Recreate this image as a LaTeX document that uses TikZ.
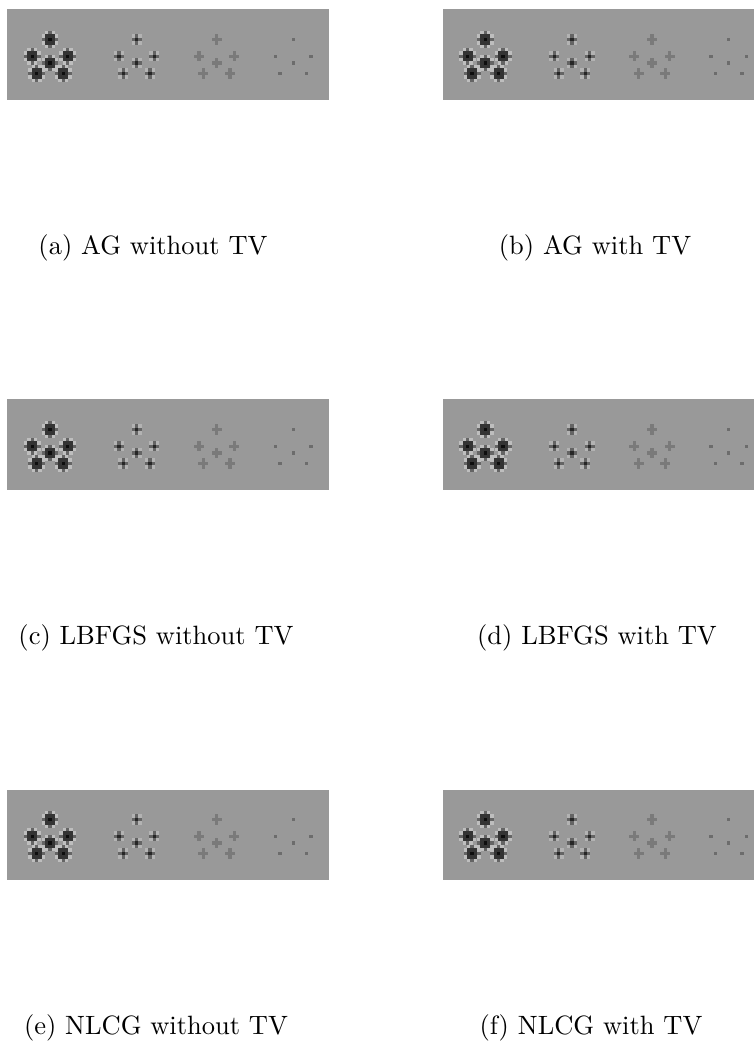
\documentclass[tikz,border=0pt]{standalone}
\usepackage{tikz}

\definecolor{bgray}{RGB}{153,153,153}
\definecolor{halogray}{RGB}{190,190,190}
\definecolor{armgray}{RGB}{100,100,100}
\definecolor{coregray}{RGB}{52,52,52}
\definecolor{dotgray}{RGB}{122,122,122}
\definecolor{pixgray}{RGB}{108,108,108}

\tikzset{
  % one recovered dot of each strength, drawn pixel by pixel
  pics/bigdot/.style={code={
    \fill[halogray] (-8.4,-5.04) rectangle (8.4,5.04);
    \fill[halogray] (-5.04,-8.4) rectangle (5.04,8.4);
    \fill[armgray] (-8.4,-1.68) rectangle (8.4,1.68);
    \fill[armgray] (-1.68,-8.4) rectangle (1.68,8.4);
    \fill[coregray] (-5.04,-5.04) rectangle (5.04,5.04);
    \fill[black!95] (-1.68,-1.68) rectangle (1.68,1.68);
  }},
  pics/middot/.style={code={
    \fill[halogray!70!bgray] (-5.04,-5.04) rectangle (5.04,5.04);
    \fill[armgray] (-5.04,-1.68) rectangle (5.04,1.68);
    \fill[armgray] (-1.68,-5.04) rectangle (1.68,5.04);
    \fill[black!85] (-1.68,-1.68) rectangle (1.68,1.68);
  }},
  pics/crossdot/.style={code={
    \fill[dotgray] (-5.04,-1.68) rectangle (5.04,1.68);
    \fill[dotgray] (-1.68,-5.04) rectangle (1.68,5.04);
  }},
  pics/pixdot/.style={code={
    \fill[pixgray] (-1.68,-1.68) rectangle (1.68,1.68);
  }},
  pics/panel/.style={code={
    \fill[bgray] (0,0) rectangle (322,90.5);
    \foreach \dx/\dy in {0/30,-17.7/46.7,17.7/46.7,0/53.5,-13.3/64,13.3/64}
      \pic at ({42.7+\dx},\dy) {bigdot};
    \foreach \dx/\dy in {0/30,-17.7/46.7,17.7/46.7,0/53.5,-13.3/64,13.3/64}
      \pic at ({129.4+\dx},\dy) {middot};
    \foreach \dx/\dy in {0/30,-17.7/46.7,17.7/46.7,0/53.5,-13.3/64,13.3/64}
      \pic at ({209.4+\dx},\dy) {crossdot};
    \foreach \dx/\dy in {0/30,-17.7/46.7,17.7/46.7,0/53.5,-13.3/64,13.3/64}
      \pic at ({286+\dx},\dy) {pixdot};
  }},
  caption/.style={inner sep=0pt, font=\normalsize}
}

\begin{document}
\begin{tikzpicture}[x=0.3775pt, y=-0.3775pt]
    \useasboundingbox (0,0) rectangle (754,1043);
    \clip (0,0) rectangle (754,1043);
    % images
    \pic (pa) at (7.3,9.5) {panel};
    \pic (pb) at (442.7,9.5) {panel};
    \pic (pc) at (7.3,399.5) {panel};
    \pic (pd) at (442.7,399.5) {panel};
    \pic (pe) at (7.3,789.5) {panel};
    \pic (pf) at (442.7,789.5) {panel};
    % captions
    \node[caption] (capa) at (153,248) {(a) AG without TV};
    \node[caption] (capb) at (595,248) {(b) AG with TV};
    \node[caption] (capc) at (156,638) {(c) LBFGS without TV};
    \node[caption] (capd) at (597,638) {(d) LBFGS with TV};
    \node[caption] (cape) at (156,1028) {(e) NLCG without TV};
    \node[caption] (capf) at (591,1028) {(f) NLCG with TV};
\end{tikzpicture}
\end{document}
